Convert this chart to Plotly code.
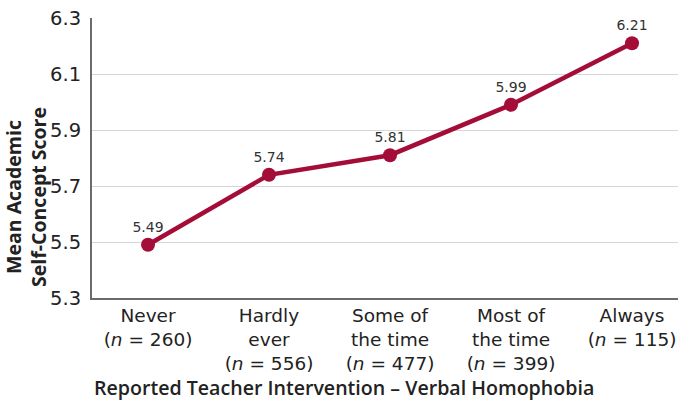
import plotly.graph_objects as go

# Survey categories and mean scores
categories = ["Never", "Hardly ever", "Some of the time", "Most of the time", "Always"]
tick_labels = [
    "Never<br>(<i>n</i> = 260)",
    "Hardly<br>ever<br>(<i>n</i> = 556)",
    "Some of<br>the time<br>(<i>n</i> = 477)",
    "Most of<br>the time<br>(<i>n</i> = 399)",
    "Always<br>(<i>n</i> = 115)",
]
mean_scores = [5.49, 5.74, 5.81, 5.99, 6.21]
y_ticks = [5.3, 5.5, 5.7, 5.9, 6.1, 6.3]

LINE_COLOR = "#A30D38"
BODY_FONT = "DejaVu Sans"
TITLE_FONT = "Open Sans"
TEXT = "#222222"
positions = list(range(len(categories)))

fig = go.Figure(
    go.Scatter(
        x=positions,
        y=mean_scores,
        mode="lines+markers+text",
        line=dict(color=LINE_COLOR, width=4.5),
        marker=dict(color=LINE_COLOR, size=14),
        text=[f"{v:.2f}" for v in mean_scores],
        textposition="top center",
        textfont=dict(family=BODY_FONT, size=14, color="#333333"),
        cliponaxis=False,
        hoverinfo="skip",
    )
)

fig.update_layout(
    width=678,
    height=403,
    margin=dict(l=92, r=0, t=18, b=105),
    paper_bgcolor="white",
    plot_bgcolor="white",
    showlegend=False,
    font=dict(family=BODY_FONT, color=TEXT),
    xaxis=dict(
        range=[-0.463, 4.38],
        tickmode="array",
        tickvals=positions,
        ticktext=tick_labels,
        tickfont=dict(family=BODY_FONT, size=18.5, color=TEXT),
        showgrid=False,
        zeroline=False,
        showline=True,
        linecolor="#6b6b6b",
        linewidth=2,
        ticks="",
    ),
    yaxis=dict(
        range=[5.3, 6.3],
        tickmode="array",
        tickvals=y_ticks,
        ticktext=[f"{v:.1f}" for v in y_ticks],
        tickfont=dict(family=BODY_FONT, size=19.5, color=TEXT),
        showgrid=True,
        gridcolor="#d6d6d6",
        gridwidth=1,
        zeroline=False,
        showline=True,
        linecolor="#6b6b6b",
        linewidth=2,
        ticks="",
        ticklabelstandoff=5,
    ),
    annotations=[
        dict(
            text="<b>Mean Academic<br>Self-Concept Score</b>",
            xref="paper", yref="paper",
            x=(26 - 92) / 586, y=(298 - 197) / 280,
            xanchor="center", yanchor="middle",
            textangle=-90,
            showarrow=False,
            font=dict(family=TITLE_FONT, size=19.5, color=TEXT),
        ),
        dict(
            text="Reported Teacher Intervention – Verbal Homophobia",
            xref="paper", yref="paper",
            x=(344 - 92) / 586, y=-(387 - 298) / 280,
            xanchor="center", yanchor="middle",
            showarrow=False,
            font=dict(family=TITLE_FONT, size=19.6, color=TEXT, weight=600),
        ),
    ],
)

fig.write_html("out.html")
